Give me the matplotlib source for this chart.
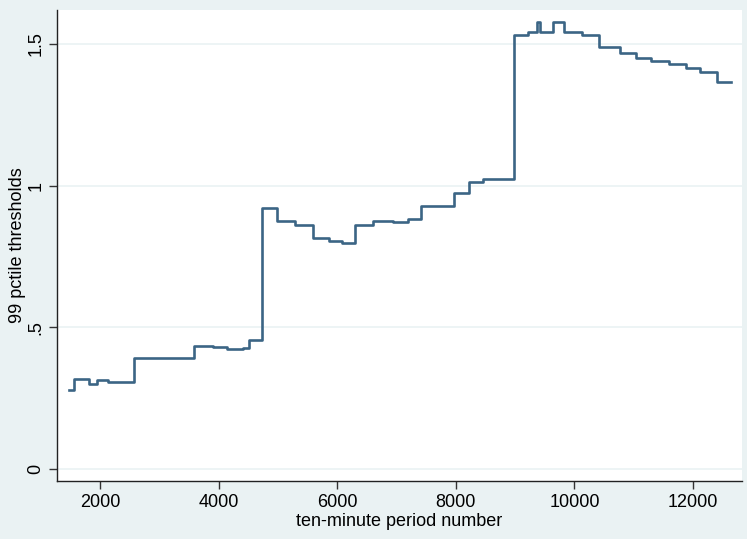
import matplotlib.pyplot as plt

plt.rcParams['font.family'] = ['Liberation Sans', 'DejaVu Sans']

# start of each step (ten-minute period number) and its threshold value
period = [1477, 1562, 1815, 1950, 2135, 2573, 3585, 3906, 4142, 4411, 4513,
          4732, 4985, 5289, 5592, 5862, 6081, 6300, 6604, 6941, 7194, 7413,
          7970, 8223, 8459, 8982, 9218, 9370, 9420, 9640, 9825, 10128, 10415,
          10769, 11039, 11292, 11596, 11882, 12118, 12405, 12641]
threshold = [0.279, 0.318, 0.300, 0.314, 0.307, 0.392, 0.434, 0.430, 0.424,
             0.427, 0.455, 0.921, 0.875, 0.861, 0.815, 0.805, 0.798, 0.861,
             0.875, 0.872, 0.882, 0.928, 0.974, 1.013, 1.024, 1.532, 1.543,
             1.578, 1.543, 1.578, 1.543, 1.532, 1.490, 1.468, 1.451, 1.440,
             1.430, 1.416, 1.401, 1.366, 1.366]

xticks = [2000, 4000, 6000, 8000, 10000, 12000]
yticks = [0, 0.5, 1, 1.5]
ytick_labels = ['0', '.5', '1', '1.5']

bg = '#eaf2f3'
fig = plt.figure(figsize=(7.47, 5.39), dpi=100, facecolor=bg)
ax = fig.add_axes([0.0763, 0.1076, 0.917, 0.8738])
ax.set_facecolor('white')

for y in yticks:
    ax.axhline(y, color=bg, lw=1.2, zorder=0)

ax.step(period, threshold, where='post', color='#3b6585', lw=1.9)

ax.set_xlim(1275, 12826)
ax.set_ylim(-0.042, 1.62)
ax.set_xticks(xticks)
ax.set_yticks(yticks)
ax.set_yticklabels(ytick_labels, rotation=90, va='center')
ax.tick_params(labelsize=13, length=6, width=1, color='#333333')
ax.tick_params(axis='y', pad=3)

for s in ['top', 'right']:
    ax.spines[s].set_visible(False)
for s in ['left', 'bottom']:
    ax.spines[s].set_color('#222222')
    ax.spines[s].set_linewidth(1)

ax.set_xlabel('ten-minute period number', fontsize=13, labelpad=1)
ax.set_ylabel('99 pctile thresholds', fontsize=13, labelpad=1)

fig.savefig('out.png', dpi=100, facecolor=bg)
